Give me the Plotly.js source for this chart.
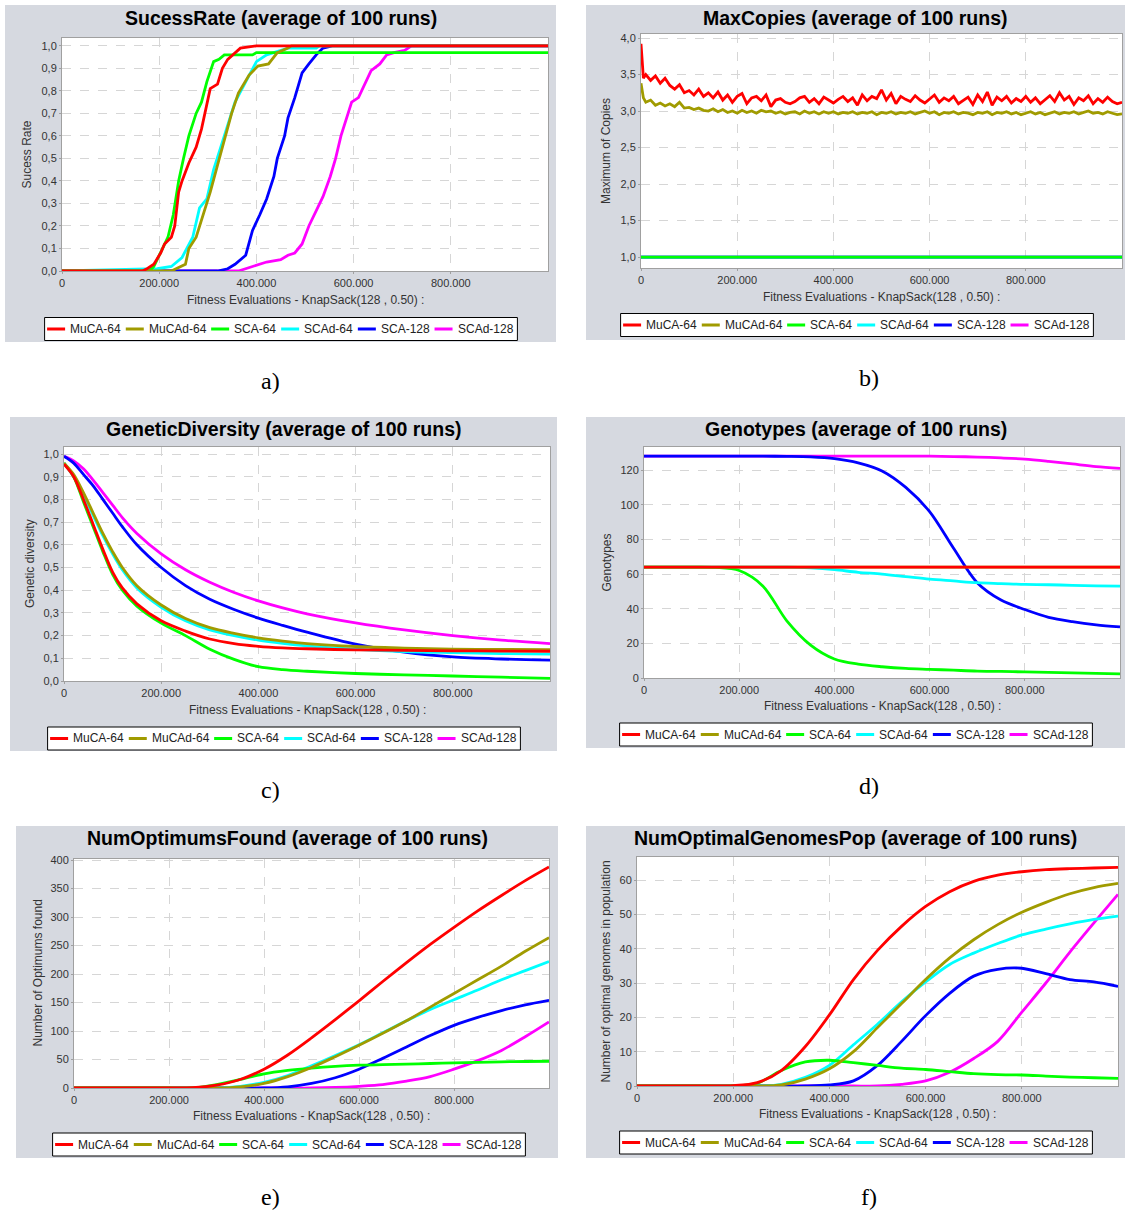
<!DOCTYPE html>
<html><head><meta charset="utf-8">
<script src="https://cdn.plot.ly/plotly-3.0.1.min.js"></script>
<style>html,body{margin:0;padding:0;background:#fff}#chart{width:1125px;height:1212px}</style>
</head><body><div id="chart"></div>
<script>
// ---------- series metadata ----------
const seriesNames = ['MuCA-64','MuCAd-64','SCA-64','SCAd-64','SCA-128','SCAd-128'];
const seriesColors = ['#ff0000','#a09b00','#00ff00','#00ffff','#0000ff','#ff00ff'];
const xTickVals = [0,200000,400000,600000,800000];

// ---------- a) SucessRate ----------
const srMuCA64X = [0,165000,175000,189000,203000,211000,225000,232000,240000,247000,261000,276000,287000,298000,305000,320000,330000,341000,356000,367000,400000,1000000];
const srMuCA64Y = [0,0,0.01,0.03,0.08,0.12,0.15,0.2,0.35,0.4,0.48,0.55,0.63,0.75,0.81,0.83,0.9,0.94,0.97,0.99,1.0,1.0];
const srMuCAd64X = [0,225000,254000,261000,276000,290000,305000,320000,334000,349000,363000,385000,403000,425000,443000,465000,472000,1000000];
const srMuCAd64Y = [0,0,0.03,0.1,0.15,0.25,0.35,0.47,0.58,0.7,0.79,0.87,0.91,0.92,0.97,0.99,1.0,1.0];
const srSCA64X = [0,180000,189000,203000,218000,229000,240000,250000,261000,276000,287000,298000,312000,323000,334000,392000,400000,1000000];
const srSCA64Y = [0,0,0.02,0.08,0.15,0.25,0.4,0.5,0.6,0.7,0.75,0.84,0.93,0.94,0.96,0.96,0.97,0.97];
const srSCAd64X = [0,196000,225000,247000,269000,283000,298000,312000,334000,356000,378000,400000,421000,450000,465000,523000,530000,1000000];
const srSCAd64Y = [0,0.01,0.02,0.06,0.15,0.28,0.32,0.45,0.6,0.75,0.84,0.93,0.96,0.98,0.99,0.99,1.0,1.0];
const srSCA128X = [0,320000,341000,356000,378000,385000,392000,407000,421000,436000,443000,458000,465000,479000,494000,508000,523000,537000,556000,1000000];
const srSCA128Y = [0,0,0.01,0.03,0.07,0.12,0.18,0.25,0.32,0.42,0.5,0.6,0.68,0.77,0.88,0.92,0.96,0.99,1.0,1.0];
const srSCAd128X = [0,363000,392000,421000,450000,465000,479000,494000,508000,523000,537000,552000,563000,574000,585000,596000,610000,625000,636000,654000,668000,683000,705000,719000,1000000];
const srSCAd128Y = [0,0,0.02,0.04,0.05,0.07,0.08,0.12,0.2,0.27,0.33,0.42,0.5,0.6,0.68,0.75,0.77,0.84,0.89,0.92,0.96,0.97,0.98,1.0,1.0];

// ---------- b) MaxCopies ----------
const mcX = [0,5000,10000,20000,30000,40000,50000,60000,70000,80000,90000,100000,
 110000,120000,130000,140000,150000,160000,170000,180000,190000,200000,
 210000,220000,230000,240000,250000,260000,270000,280000,290000,300000,
 310000,320000,330000,340000,350000,360000,370000,380000,390000,400000,
 410000,420000,430000,440000,450000,460000,470000,480000,490000,500000,
 510000,520000,530000,540000,550000,560000,570000,580000,590000,600000,
 610000,620000,630000,640000,650000,660000,670000,680000,690000,700000,
 710000,720000,730000,740000,750000,760000,770000,780000,790000,800000,
 810000,820000,830000,840000,850000,860000,870000,880000,890000,900000,
 910000,920000,930000,940000,950000,960000,970000,980000,990000,1000000];
const mcMuCA64 = [3.92,3.45,
 3.50,3.42,3.48,3.38,3.45,3.35,3.30,3.36,3.25,3.28,
 3.22,3.30,3.20,3.25,3.18,3.26,3.15,3.22,3.12,3.20,
 3.24,3.10,3.18,3.20,3.14,3.22,3.06,3.15,3.17,3.12,
 3.10,3.13,3.18,3.20,3.12,3.17,3.10,3.19,3.15,3.11,
 3.16,3.20,3.13,3.18,3.08,3.22,3.14,3.20,3.17,3.29,
 3.15,3.24,3.10,3.20,3.16,3.13,3.21,3.15,3.11,3.17,
 3.22,3.12,3.18,3.14,3.20,3.10,3.15,3.19,3.09,3.22,
 3.13,3.26,3.08,3.19,3.14,3.20,3.11,3.17,3.13,3.20,
 3.12,3.18,3.10,3.16,3.21,3.13,3.25,3.15,3.20,3.09,
 3.18,3.14,3.21,3.10,3.17,3.12,3.19,3.13,3.10,3.12];
const mcMuCAd64 = [3.38,3.18,
 3.12,3.15,3.08,3.11,3.07,3.10,3.06,3.12,3.04,3.05,
 3.02,3.04,3.01,3.00,3.03,2.99,3.02,2.98,3.00,2.97,
 3.01,2.98,3.00,2.97,3.01,2.99,3.00,2.97,2.99,2.96,
 2.98,2.99,2.96,3.00,2.97,2.99,2.96,2.99,2.97,2.99,
 2.96,2.98,2.97,2.99,2.96,2.98,2.97,2.99,2.95,2.98,
 2.97,2.99,2.96,2.98,2.97,2.99,2.96,2.98,3.00,2.97,
 2.99,2.95,2.98,2.97,2.99,2.96,2.98,2.97,2.95,2.98,
 2.97,2.99,2.95,2.98,2.97,2.99,2.96,2.98,2.95,2.97,
 2.99,2.96,2.98,2.95,2.97,2.99,2.96,2.98,2.97,2.99,
 2.96,2.98,3.00,2.97,2.98,2.96,2.99,2.97,2.95,2.96];
const mcFlatX = [0,1000000];
const mcSCA64 = [1,1];
const mcSCAd64 = [1,1];
const mcSCA128 = [1,1];
const mcSCAd128 = [1,1];

// ---------- c) GeneticDiversity ----------
const gdX = [0,20000,40000,60000,80000,100000,120000,150000,200000,250000,300000,350000,400000,450000,500000,600000,700000,800000,900000,1000000];
const gdMuCA64  = [0.955,0.9,0.8,0.69,0.58,0.48,0.41,0.34,0.265,0.22,0.185,0.165,0.153,0.146,0.142,0.137,0.135,0.133,0.132,0.131];
const gdMuCAd64 = [0.96,0.91,0.83,0.74,0.65,0.57,0.5,0.42,0.335,0.275,0.235,0.21,0.19,0.176,0.165,0.152,0.145,0.14,0.139,0.138];
const gdSCA64   = [0.96,0.9,0.79,0.68,0.57,0.47,0.4,0.33,0.255,0.2,0.14,0.095,0.063,0.05,0.043,0.033,0.027,0.022,0.017,0.012];
const gdSCAd64  = [0.96,0.9,0.82,0.73,0.64,0.56,0.49,0.41,0.325,0.265,0.225,0.2,0.18,0.166,0.155,0.14,0.13,0.125,0.121,0.118];
const gdSCA128  = [0.99,0.96,0.91,0.86,0.8,0.74,0.68,0.6,0.5,0.42,0.36,0.315,0.277,0.245,0.215,0.162,0.127,0.106,0.097,0.092];
const gdSCAd128 = [0.99,0.97,0.935,0.885,0.83,0.775,0.72,0.65,0.56,0.49,0.435,0.39,0.353,0.322,0.296,0.256,0.225,0.2,0.18,0.165];

// ---------- shared 50k grid for d), e), f) ----------
const x50 = [0,50000,100000,150000,200000,250000,300000,350000,400000,450000,500000,550000,600000,650000,700000,750000,800000,850000,900000,950000,1000000];

// ---------- d) Genotypes ----------
const gtMuCA64  = [64,64,64,64,64,64,64,64,64,64,64,64,64,64,64,64,64,64,64,64,64];
const gtMuCAd64 = [64,64,64,64,64,64,64,64,64,64,64,64,64,64,64,64,64,64,64,64,64];
const gtSCA64   = [64,64,64,63.8,62,53,33,19,11,8,6.5,5.5,5,4.5,4,3.8,3.5,3.2,3,2.7,2.4];
const gtSCAd64  = [64,64,64,64,64,64,64,63.5,62.5,61,60,58.5,57,56,55,54.5,54,53.8,53.5,53.2,53];
const gtSCA128  = [128,128,128,128,128,128,127.9,127.6,126.6,124.2,119.5,110,96,75,55,45,39.5,35,32.5,30.7,29.5];
const gtSCAd128 = [128,128,128,128,128,128,128,128,128,128,128,128,128,127.8,127.5,127,126.3,125,123.5,122,121];

// ---------- e) NumOptimumsFound ----------
const ofMuCA64  = [0,0,0,0,0,0.5,5,15,33,58,88,120,153,187,220,252,282,311,338,364,388];
const ofMuCAd64 = [0,0,0,0,0,0,0,2,8,20,36,55,75,96,118,142,166,190,214,240,264];
const ofSCA64   = [0,0,0,0,0,0,6,15,25,31,35,38,40,41,42,43,44,45,46,46.5,47];
const ofSCAd64  = [0,0,0,0,0,0,0,3,10,22,39,57,76,97,118,138,155,172,190,206,222];
const ofSCA128  = [0,0,0,0,0,0,0,0,0,2,8,18,33,52,72,92,110,124,136,146,154];
const ofSCAd128 = [0,0,0,0,0,0,0,0,0,0,0,1,3,6,12,20,33,48,66,90,116];

// ---------- f) NumOptimalGenomesPop ----------
const ogMuCA64  = [0,0,0,0,0.1,1,4.5,11.5,20.7,31,39.5,46.5,52.3,56.6,59.6,61.4,62.4,63,63.3,63.5,63.7];
const ogMuCAd64 = [0,0,0,0,0,0,0.3,2,5,10,17,24,31,37.3,42.6,47,50.6,53.5,56,57.8,59];
const ogSCA64   = [0,0,0,0,0,0.8,4.5,7,7.5,6.8,6,5.2,4.8,4.2,3.6,3.3,3.2,2.9,2.6,2.4,2.2];
const ogSCAd64  = [0,0,0,0,0,0,0.5,2.5,6,12,18,24.5,30.3,35.4,38.7,41.5,44,45.7,47.2,48.5,49.5];
const ogSCA128  = [0,0,0,0,0,0,0,0,0.3,1.5,6,13,20.5,27,32,34,34.3,32.7,31,30.3,29];
const ogSCAd128 = [0,0,0,0,0,0,0,0,0,0,0,0.5,1.5,4,8,13,21.5,30,39,47.5,55.8];

// ---------- panels ----------
const W = 1125, H = 1212;
const px = v => v / W, py = v => 1 - v / H;

const panels = [
  {title:'SucessRate (average of 100 runs)', ytitle:'Sucess Rate', box:[5,5,556,342], plot:[62,38,548,271],
   yr:[0,1.035], yt:[0,0.1,0.2,0.3,0.4,0.5,0.6,0.7,0.8,0.9,1.0], yf:'.1f', tcy:18, ytx:26, xty:300, leg:[281,329], lab:'a)', labp:[270,381],
   xs:[srMuCA64X,srMuCAd64X,srSCA64X,srSCAd64X,srSCA128X,srSCAd128X], ys:[srMuCA64Y,srMuCAd64Y,srSCA64Y,srSCAd64Y,srSCA128Y,srSCAd128Y], shape:'linear'},
  {title:'MaxCopies (average of 100 runs)', ytitle:'Maximum of Copies', box:[586,5,1125,340], plot:[641,34,1122,268],
   yr:[0.85,4.055], yt:[1.0,1.5,2.0,2.5,3.0,3.5,4.0], yf:'.1f', tcy:18, ytx:606, xty:297, leg:[857,325], lab:'b)', labp:[869,378],
   xs:[mcX,mcX,mcFlatX,mcFlatX,mcFlatX,mcFlatX], ys:[mcMuCA64,mcMuCAd64,mcSCA64,mcSCAd64,mcSCA128,mcSCAd128], shape:'linear'},
  {title:'GeneticDiversity (average of 100 runs)', ytitle:'Genetic diversity', box:[10,417,557,751], plot:[64,447,550,681],
   yr:[0,1.031], yt:[0,0.1,0.2,0.3,0.4,0.5,0.6,0.7,0.8,0.9,1.0], yf:'.1f', tcy:429, ytx:30, xty:710, leg:[284,738.5], lab:'c)', labp:[270,790],
   xs:[gdX,gdX,gdX,gdX,gdX,gdX], ys:[gdMuCA64,gdMuCAd64,gdSCA64,gdSCAd64,gdSCA128,gdSCAd128], shape:'spline'},
  {title:'Genotypes (average of 100 runs)', ytitle:'Genotypes', box:[586,417,1125,748], plot:[644,447,1120,678],
   yr:[0,133.3], yt:[0,20,40,60,80,100,120], yf:'d', tcy:429, ytx:606, xty:706, leg:[856,734.5], lab:'d)', labp:[869,786],
   xs:[x50,x50,x50,x50,x50,x50], ys:[gtMuCA64,gtMuCAd64,gtSCA64,gtSCAd64,gtSCA128,gtSCAd128], shape:'spline'},
  {title:'NumOptimumsFound (average of 100 runs)', ytitle:'Number of Optimums found', box:[16,826,558,1158], plot:[74,859,549,1088],
   yr:[0,402], yt:[0,50,100,150,200,250,300,350,400], yf:'d', tcy:838, ytx:37, xty:1116, leg:[289,1144.5], lab:'e)', labp:[270,1197],
   xs:[x50,x50,x50,x50,x50,x50], ys:[ofMuCA64,ofMuCAd64,ofSCA64,ofSCAd64,ofSCA128,ofSCAd128], shape:'spline'},
  {title:'NumOptimalGenomesPop (average of 100 runs)', ytitle:'Number of optimal genomes in population', box:[586,826,1125,1158], plot:[637,857,1118,1086],
   yr:[0,66.7], yt:[0,10,20,30,40,50,60], yf:'d', tcy:838, ytx:605, xty:1114, leg:[856,1142.5], lab:'f)', labp:[869,1197],
   xs:[x50,x50,x50,x50,x50,x50], ys:[ogMuCA64,ogMuCAd64,ogSCA64,ogSCAd64,ogSCA128,ogSCAd128], shape:'spline'}
];

const FONT = '"Liberation Sans", Arial, Helvetica, sans-serif';
const shapes = [], annotations = [], traces = [];
const layout = {
  width: W, height: H, margin: {l:0,r:0,t:0,b:0},
  paper_bgcolor: '#ffffff', plot_bgcolor: 'rgba(0,0,0,0)',
  separators: ',.', showlegend: false,
  font: {family: FONT, size: 11, color: '#333'}
};

const ctx = document.createElement('canvas').getContext('2d');
ctx.font = '12px "Liberation Sans"';

panels.forEach((p, i) => {
  const n = i === 0 ? '' : String(i + 1);
  const [l, t, r, b] = p.plot;
  layout['xaxis' + n] = {
    domain: [l / W, r / W], anchor: 'y' + n, range: [0, 1000000],
    tickmode: 'array', tickvals: xTickVals, tickformat: ',d',
    showline: true, mirror: true, linecolor: '#a0a0a0', linewidth: 1,
    showgrid: true, gridcolor: '#d6d6d6', griddash: 'dash', gridwidth: 1, zeroline: false,
    ticks: 'outside', ticklen: 2, tickcolor: '#a0a0a0',
    tickfont: {family: FONT, size: 11, color: '#333'}, fixedrange: true
  };
  layout['yaxis' + n] = {
    domain: [1 - b / H, 1 - t / H], anchor: 'x' + n, range: p.yr,
    tickmode: 'array', tickvals: p.yt, tickformat: p.yf,
    showline: true, mirror: true, linecolor: '#a0a0a0', linewidth: 1,
    showgrid: true, gridcolor: '#d6d6d6', griddash: 'dash', gridwidth: 1, zeroline: false,
    ticks: 'outside', ticklen: 2, tickcolor: '#a0a0a0',
    tickfont: {family: FONT, size: 11, color: '#333'}, fixedrange: true
  };
  // grey chart panel + white plot area
  shapes.push({type:'rect', xref:'paper', yref:'paper', layer:'below',
    x0:px(p.box[0]), x1:px(p.box[2]), y0:py(p.box[3]), y1:py(p.box[1]),
    fillcolor:'#d6d9e0', line:{width:0}});
  shapes.push({type:'rect', xref:'paper', yref:'paper', layer:'below',
    x0:px(l), x1:px(r), y0:py(b), y1:py(t), fillcolor:'#ffffff', line:{width:0}});
  // title
  annotations.push({xref:'paper', yref:'paper', x:px((p.box[0] + p.box[2]) / 2), y:py(p.tcy),
    xanchor:'center', yanchor:'middle', showarrow:false, text:'<b>' + p.title + '</b>',
    font:{family:FONT, size:19.5, color:'#000'}});
  // axis titles
  annotations.push({xref:'paper', yref:'paper', x:px((l + r) / 2), y:py(p.xty),
    xanchor:'center', yanchor:'middle', showarrow:false,
    text:'Fitness Evaluations - KnapSack(128 , 0.50) :', font:{family:FONT, size:12, color:'#333'}});
  annotations.push({xref:'paper', yref:'paper', x:px(p.ytx), y:py((t + b) / 2),
    xanchor:'center', yanchor:'middle', showarrow:false, textangle:-90,
    text:p.ytitle, font:{family:FONT, size:12, color:'#333'}});
  // sub-figure label
  annotations.push({xref:'paper', yref:'paper', x:px(p.labp[0]), y:py(p.labp[1]),
    xanchor:'center', yanchor:'middle', showarrow:false, text:p.lab,
    font:{family:'"Liberation Serif", "Times New Roman", serif', size:24, color:'#000'}});
  // legend (custom, JFreeChart style)
  const widths = seriesNames.map(s => ctx.measureText(s).width);
  const total = 2 + widths.reduce((a, w) => a + 28 + w, 0) - 6 + 6;
  const [cx, cy] = p.leg;
  const x0 = cx - total / 2;
  shapes.push({type:'rect', xref:'paper', yref:'paper', layer:'above',
    x0:px(x0), x1:px(x0 + total), y0:py(cy + 11.5), y1:py(cy - 11.5),
    fillcolor:'#ffffff', line:{color:'#000', width:1}});
  let cur = x0 + 2.5;
  seriesNames.forEach((s, k) => {
    shapes.push({type:'line', xref:'paper', yref:'paper', layer:'above',
      x0:px(cur), x1:px(cur + 18), y0:py(cy), y1:py(cy),
      line:{color:seriesColors[k], width:3}});
    annotations.push({xref:'paper', yref:'paper', x:px(cur + 21), y:py(cy),
      xanchor:'left', yanchor:'middle', showarrow:false, text:s,
      font:{family:FONT, size:12, color:'#222'}});
    cur += 28 + widths[k];
  });
  // traces: drawn in reverse order so the first series ends on top
  for (let k = seriesNames.length - 1; k >= 0; k--) {
    traces.push({
      type:'scatter', mode:'lines', name:seriesNames[k],
      x:p.xs[k], y:p.ys[k], xaxis:'x' + n, yaxis:'y' + n,
      line:{color:seriesColors[k], width:2.8, shape:p.shape, smoothing:0.9},
      hoverinfo:'skip', showlegend:false
    });
  }
});

layout.shapes = shapes;
layout.annotations = annotations;
Plotly.newPlot('chart', traces, layout, {staticPlot:true, displayModeBar:false});
</script>
</body></html>
